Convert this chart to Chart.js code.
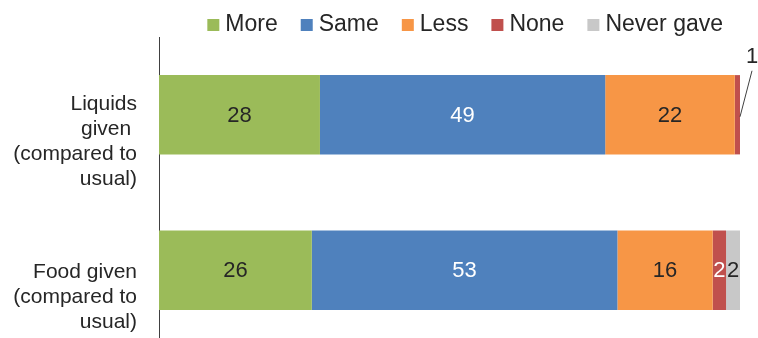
<!DOCTYPE html>
<html><head><meta charset="utf-8">
<script src="https://cdn.jsdelivr.net/npm/chart.js@4"></script>
<style>html,body{margin:0;padding:0;overflow:hidden;background:#fff;width:758px;height:338px}
canvas{display:block}</style></head>
<body><canvas id="c" width="758" height="349"></canvas>
<script>
const categories = [["Liquids", "given ", "(compared to", "usual)"], ["Food given", "(compared to", "usual)"]];
const seriesNames = ["More", "Same", "Less", "None", "Never gave"];
const more = [27.7, 26.3];
const same = [49.1, 52.6];
const less = [22.3, 16.4];
const none = [0.9, 2.3];
const neverGave = [0, 2.4];
const seriesColors = ["#9BBB59", "#4F81BD", "#F79646", "#C0504D", "#C8C8C8"];
const labelColors = ["#262626", "#ffffff", "#262626", "#ffffff", "#262626"];
const seriesData = [more, same, less, none, neverGave];
const FONT = '"Liberation Sans", Arial, sans-serif';

const valueLabels = {
  id: 'valueLabels',
  afterDatasetsDraw(chart) {
    const ctx = chart.ctx;
    ctx.save();
    ctx.font = '22px ' + FONT;
    ctx.textAlign = 'center';
    ctx.textBaseline = 'middle';
    chart.data.datasets.forEach((ds, i) => {
      const meta = chart.getDatasetMeta(i);
      meta.data.forEach((bar, j) => {
        const v = ds.data[j];
        if (!v) return;
        const txt = String(Math.round(v));
        const w = Math.abs(bar.x - bar.base);
        if (w < 8) {
          ctx.strokeStyle = '#404040';
          ctx.lineWidth = 1;
          ctx.beginPath();
          ctx.moveTo(bar.x, bar.y + 2);
          ctx.lineTo(bar.x + 12, bar.y - 44);
          ctx.stroke();
          ctx.fillStyle = '#262626';
          ctx.fillText(txt, bar.x + 12, bar.y - 58);
        } else {
          ctx.fillStyle = labelColors[i];
          ctx.fillText(txt, (bar.x + bar.base) / 2, bar.y + 1);
        }
      });
    });
    ctx.restore();
  }
};

new Chart(document.getElementById('c'), {
  type: 'bar',
  data: {
    labels: categories,
    datasets: seriesNames.map((n, i) => ({
      label: n,
      data: seriesData[i],
      backgroundColor: seriesColors[i],
      borderWidth: 0,
      barPercentage: 0.51,
      categoryPercentage: 1
    }))
  },
  options: {
    indexAxis: 'y',
    responsive: false,
    animation: false,
    devicePixelRatio: 1,
    layout: { padding: { top: -15, right: 6.5, bottom: 1, left: 0 } },
    plugins: {
      legend: {
        position: 'top',
        align: 'end',
        maxHeight: 52,
        labels: {
          usePointStyle: true,
          pointStyle: 'rect',
          boxWidth: 1,
          boxHeight: 12,
          padding: 28.5,
          color: '#262626',
          font: { family: FONT, size: 23 }
        }
      },
      tooltip: { enabled: false }
    },
    scales: {
      x: {
        stacked: true, min: 0, max: 100, display: false,
        afterFit(s) { s.paddingRight = 18; s.paddingLeft = 0; }
      },
      y: {
        stacked: true,
        grid: { display: false, drawTicks: false },
        border: { display: true, color: '#404040', width: 1 },
        ticks: {
          padding: 22,
          labelOffset: 27,
          color: '#262626',
          font: { family: FONT, size: 21, lineHeight: 1.2 }
        },
        afterFit(s) { s.width = 159; s.paddingTop = 0; s.paddingBottom = 0; }
      }
    }
  },
  plugins: [valueLabels]
});
</script>
</body></html>
